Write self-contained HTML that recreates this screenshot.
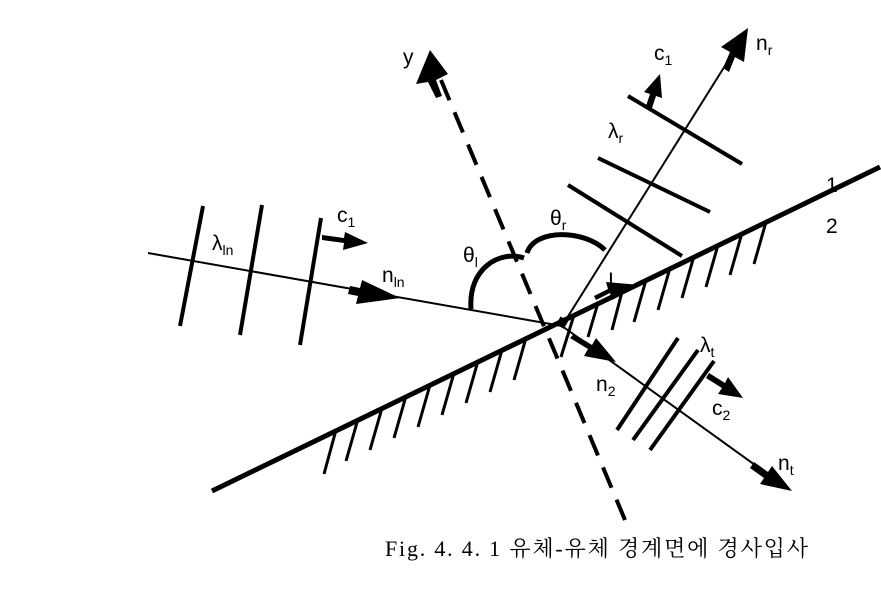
<!DOCTYPE html>
<html><head><meta charset="utf-8"><style>
body{margin:0;background:#fff;width:881px;height:592px;overflow:hidden}
svg{display:block}
text{font-family:"Liberation Sans",sans-serif;fill:#000}
</style></head><body>
<svg width="881" height="592" viewBox="0 0 881 592" xmlns="http://www.w3.org/2000/svg">
<g stroke="#000" fill="none" stroke-linecap="butt">
<line x1="212" y1="491" x2="880" y2="167" stroke-width="5"/>
<g stroke-width="3">
<line x1="336" y1="430" x2="324" y2="474"/>
<line x1="358" y1="419" x2="346" y2="461"/>
<line x1="382" y1="408" x2="370" y2="450"/>
<line x1="406" y1="396" x2="394" y2="438"/>
<line x1="430" y1="385" x2="418" y2="427"/>
<line x1="454" y1="373" x2="442" y2="415"/>
<line x1="478" y1="361" x2="466" y2="403"/>
<line x1="502" y1="350" x2="490" y2="392"/>
<line x1="526" y1="338" x2="514" y2="380"/>
<line x1="574" y1="315" x2="561" y2="357"/>
<line x1="598" y1="303" x2="588" y2="337"/>
<line x1="622" y1="292" x2="612" y2="330"/>
<line x1="646" y1="280" x2="634" y2="322"/>
<line x1="670" y1="268" x2="658" y2="310"/>
<line x1="694" y1="256" x2="682" y2="298"/>
<line x1="718" y1="245" x2="706" y2="287"/>
<line x1="742" y1="233" x2="730" y2="275"/>
<line x1="766" y1="222" x2="754" y2="264"/>
</g>
<line x1="625" y1="520" x2="441" y2="80" stroke-width="4" stroke-dasharray="22,13"/>
<line x1="148" y1="253" x2="562" y2="326" stroke-width="2"/>
<g stroke-width="4">
<line x1="180" y1="326" x2="203" y2="206"/>
<line x1="240" y1="335" x2="262" y2="205"/>
<line x1="300" y1="345" x2="321" y2="218"/>
</g>
<line x1="562" y1="326" x2="738" y2="45" stroke-width="2"/>
<g stroke-width="4">
<line x1="568" y1="185" x2="682" y2="256"/>
<line x1="598" y1="158" x2="710" y2="212"/>
<line x1="628" y1="96" x2="742" y2="164"/>
</g>
<line x1="562" y1="326" x2="780" y2="483" stroke-width="2"/>
<g stroke-width="4">
<line x1="678" y1="338" x2="617" y2="430"/>
<line x1="698" y1="350" x2="633" y2="440"/>
<line x1="714" y1="361" x2="650" y2="450"/>
</g>
<path d="M471,309 C468,268 500,250 524,258" stroke-width="5"/>
<path d="M527,253 C535,228 585,230 605,250" stroke-width="5"/>
</g>
<g fill="#000">
<polygon points="430,50 448,74 436,80 442,96 436,98 428,82 416,84"/>
<polygon points="748,28 744,62 735,57 729,72 723,68 730,52 721,47"/>
<polygon points="400,298 356,304 358,296 348,294 350,286 360,288 362,280"/>
<polygon points="792,491 760,484 764,478 750,468 754,462 768,472 772,466"/>
<polygon points="640,285 612,300 610,293 596,300 594,296 608,289 606,282"/>
<polygon points="616,362 584,356 588,349 570,338 574,334 592,345 596,338"/>
<polygon points="368,243 343,250 344,243 322,240 322,235 344,238 345,232"/>
<polygon points="660,74 662,98 656,96 652,108 646,106 650,94 644,92"/>
<polygon points="743,398 718,394 722,388 706,378 709,373 725,383 728,377"/>
<rect x="558" y="318" width="9" height="9" transform="rotate(30 562 322)"/>
</g>
<g font-size="21">
<text x="403" y="64">y</text>
<text x="756" y="50">n<tspan font-size="14" dy="5">r</tspan></text>
<text x="654" y="60">c<tspan font-size="14" dy="5">1</tspan></text>
<text x="608" y="138">λ<tspan font-size="14" dy="5">r</tspan></text>
<text x="826" y="192">1</text>
<text x="826" y="233">2</text>
<text x="337" y="222">c<tspan font-size="14" dy="5">1</tspan></text>
<text x="212" y="250">λ<tspan font-size="14" dy="5">ln</tspan></text>
<text x="382" y="282">n<tspan font-size="14" dy="5">ln</tspan></text>
<text x="463" y="262">θ<tspan font-size="14" dy="5">l</tspan></text>
<text x="550" y="225">θ<tspan font-size="14" dy="5">r</tspan></text>
<text x="608" y="287">I</text>
<text x="596" y="391">n<tspan font-size="14" dy="5">2</tspan></text>
<text x="700" y="352">λ<tspan font-size="14" dy="5">t</tspan></text>
<text x="712" y="415">c<tspan font-size="14" dy="5">2</tspan></text>
<text x="778" y="470">n<tspan font-size="14" dy="5">t</tspan></text>
</g>
<text x="385" y="556" textLength="423" lengthAdjust="spacing" style="font-family:'Liberation Serif','Noto Serif CJK SC','Noto Sans CJK KR',serif;font-size:22px">Fig. 4. 4. 1   유체-유체 경계면에 경사입사</text>
</svg>
</body></html>
